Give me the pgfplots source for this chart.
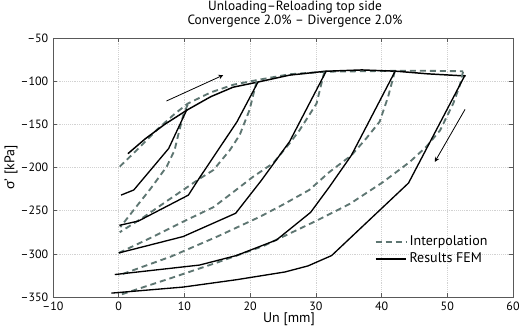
\documentclass[border=0pt]{standalone}
\usepackage{fontspec}
\setmainfont{PT Sans}
\newfontfamily\grk{Lato}
\usepackage{pgfplots}
\pgfplotsset{compat=1.18}
\definecolor{interp}{RGB}{94,118,114}
\begin{document}
\begin{tikzpicture}
\begin{axis}[
  scale only axis, width=345pt, height=194.25pt,
  xmin=-10, xmax=60, ymin=-350, ymax=-50,
  xtick={-10,0,10,20,30,40,50,60},
  xticklabels={\textendash10,0,10,20,30,40,50,60},
  ytick={-350,-300,-250,-200,-150,-100,-50},
  yticklabels={\textendash350,\textendash300,\textendash250,\textendash200,\textendash150,\textendash100,\textendash50},
  tick label style={font=\fontsize{9}{10}\selectfont},
  tick align=inside, major tick length=3pt,
  axis line style={gray!70!black},
  every tick/.style={gray!70!black},
  grid=major, grid style={densely dotted, gray!35},
  title={Unloading\textendash Reloading top side\\Convergence 2.0\% \textendash{} Divergence 2.0\%},
  title style={align=center, font=\fontsize{10}{10.5}\selectfont, at={(0.5,1)}, anchor=south, yshift=-1.5pt, xshift=9pt},
  xlabel={Un [mm]},
  xlabel style={font=\fontsize{10.5}{12}\selectfont, at={(axis description cs:0.5,0)}, anchor=base, yshift=-19pt, xshift=4.5pt},
  ylabel={{\grk σ}' [kPa]},
  ylabel style={font=\fontsize{10.5}{12}\selectfont, at={(axis description cs:-0.0913,0.5)}, anchor=center, rotate=0},
  legend style={at={(0.69,0.18)}, anchor=west, draw=none, fill=none, font=\fontsize{10.5}{12}\selectfont},
  legend cell align=left,
  legend image code/.code={\draw[#1] (0cm,0cm) -- (0.8cm,0cm);},
  clip=false,
]
% Interpolation envelope
\addplot[interp, line width=1.4pt, dash pattern=on 4.5pt off 3pt] coordinates {
(0.15,-199) (3,-178) (6,-155) (8.5,-138) (10.5,-126) (14,-113) (17.5,-104) (21.2,-98.5) (26,-92) (31.5,-89) (37,-88.5) (42,-88) (47,-88) (52.4,-88.5)};
\addlegendentry{Interpolation}
% FEM envelope
\addplot[black, line width=1.1pt] coordinates {
(1.4,-184) (4,-167) (7,-150) (10.5,-133) (14,-118) (17.4,-107) (21.2,-101) (26,-93) (31.5,-88.5) (37,-87) (42.3,-88.5) (47,-91.5) (52.8,-94)};
\addlegendentry{Results FEM}
% Interpolation branches
\addplot[interp, line width=1.4pt, dash pattern=on 4.5pt off 3pt, forget plot] coordinates {
(10.5,-127) (9.8,-140) (9,-164) (8.5,-180) (7.3,-199) (4.9,-224) (2.2,-250) (0.25,-269)};
\addplot[interp, line width=1.4pt, dash pattern=on 4.5pt off 3pt, forget plot] coordinates {
(21,-100) (20.5,-115) (19.9,-133.5) (18.4,-162.5) (16.9,-180) (14.4,-203) (12.3,-213) (10,-225) (7.3,-239) (3.7,-258) (0.15,-275)};
\addplot[interp, line width=1.4pt, dash pattern=on 4.5pt off 3pt, forget plot] coordinates {
(31.3,-89) (31.1,-95) (30.1,-126) (27.5,-157) (26,-172) (23.5,-195) (20.4,-211) (17,-231) (14.4,-246) (10,-262) (5,-281) (0,-299)};
\addplot[interp, line width=1.4pt, dash pattern=on 4.5pt off 3pt, forget plot] coordinates {
(42,-88.5) (41.8,-95) (41,-118) (39.7,-147) (37.7,-166) (35.4,-186) (32.1,-205) (29,-226) (25,-243) (21.5,-257) (15,-280) (8,-303) (0,-325)};
\addplot[interp, line width=1.4pt, dash pattern=on 4.5pt off 3pt, forget plot] coordinates {
(52.4,-89) (51.9,-105) (50.9,-126) (48.9,-157) (46.8,-176) (44.3,-193.5) (40.2,-217) (35.2,-242) (30,-262) (22,-291) (15,-310) (8,-328) (0,-348)};
% FEM branches
\addplot[black, line width=1pt, forget plot] coordinates {
(10.4,-132.5) (7.6,-178) (2.3,-226) (0.35,-232)};
\addplot[black, line width=1pt, forget plot] coordinates {
(21.2,-101) (18,-147) (12.2,-213) (10.6,-232) (3,-262) (0.1,-267)};
\addplot[black, line width=1pt, forget plot] coordinates {
(31.6,-88) (26,-170) (21.7,-215) (17.8,-253) (9.8,-280) (0,-299)};
\addplot[black, line width=1pt, forget plot] coordinates {
(42.1,-88) (35.4,-186) (32.1,-222) (29.2,-252) (24,-284) (17.9,-302) (12.3,-313) (-0.6,-324)};
\addplot[black, line width=1pt, forget plot] coordinates {
(52.7,-93) (44.1,-218) (32.4,-302) (28.8,-314) (25.3,-321) (17.9,-330) (9.8,-338.5) (-1.1,-345.5)};
% arrows
\draw[->, >=stealth, line width=0.6pt] (axis cs:7.26,-123) -- (axis cs:15.9,-93);
\draw[->, >=stealth, line width=0.6pt] (axis cs:52.7,-132.7) -- (axis cs:48.1,-193.5);
\end{axis}
\pgfresetboundingbox
\path ([shift={(-39.75pt,-22.5pt)}]current axis.south west) rectangle ([shift={(12pt,28.5pt)}]current axis.north east);
\end{tikzpicture}
\end{document}
